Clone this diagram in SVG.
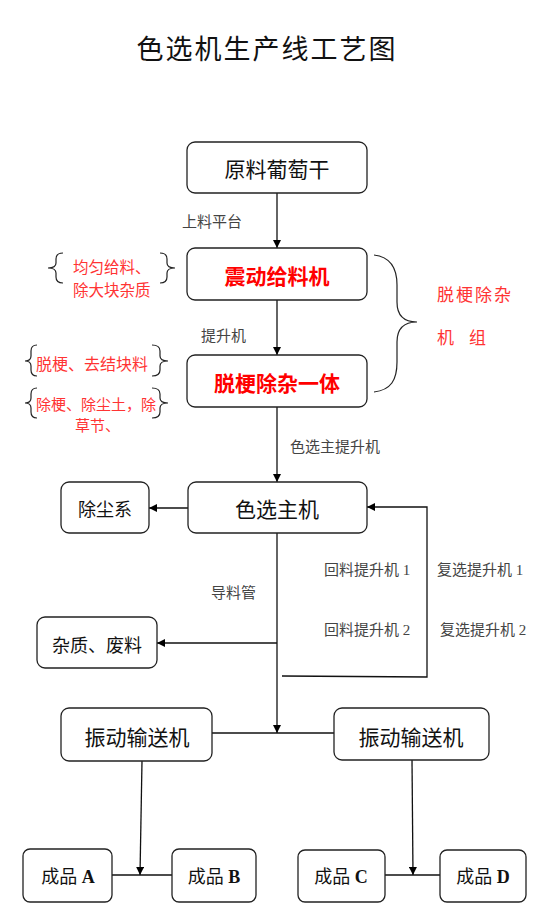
<svg xmlns="http://www.w3.org/2000/svg" width="546" height="915" viewBox="0 0 546 915">
<defs>
<marker id="ah" viewBox="0 0 10 10" refX="10" refY="5" markerWidth="8" markerHeight="8" markerUnits="userSpaceOnUse" orient="auto">
<path d="M0,0 L10,5 L0,10 z" fill="#000"/>
</marker>
<style>
.box{fill:#fff;stroke:#222;stroke-width:1.3}
.t{font-family:"Noto Sans CJK SC","Noto Sans",sans-serif;font-size:21px;fill:#111;text-anchor:middle;dominant-baseline:central}
.tr{font-family:"Noto Sans CJK SC","Noto Sans",sans-serif;font-size:21px;fill:#ff0000;font-weight:bold;text-anchor:middle;dominant-baseline:central}
.ts{font-family:"Noto Sans CJK SC","Noto Sans",sans-serif;font-size:18px;fill:#111;text-anchor:middle;dominant-baseline:central}
.tp{font-family:"Liberation Serif","Noto Sans CJK SC",serif;font-size:18px;fill:#111;text-anchor:middle;dominant-baseline:central}
.lbl{font-family:"Liberation Serif","Noto Sans CJK SC",serif;font-size:15px;fill:#444;dominant-baseline:central}
.ann{font-family:"Noto Sans CJK SC","Noto Sans",sans-serif;font-size:15.5px;fill:#ff3333;dominant-baseline:central}
.big{font-family:"Noto Sans CJK SC","Noto Sans",sans-serif;font-size:17px;fill:#ff3333;dominant-baseline:central;letter-spacing:2px}
.c{fill:none;stroke:#111;stroke-width:1.3}
.br{fill:none;stroke:#222;stroke-width:1.2}
</style>
</defs>
<rect width="546" height="915" fill="#fff"/>
<text x="267" y="47" font-family="'Noto Sans CJK SC',sans-serif" font-size="27" fill="#111" text-anchor="middle" dominant-baseline="central" letter-spacing="2">色选机生产线工艺图</text>

<g id="connectors">
<line class="c" x1="277" y1="193" x2="277" y2="248" marker-end="url(#ah)"/>
<line class="c" x1="277" y1="300" x2="277" y2="355" marker-end="url(#ah)"/>
<line class="c" x1="277" y1="407" x2="277" y2="482" marker-end="url(#ah)"/>
<line class="c" x1="188" y1="508" x2="149" y2="508" marker-end="url(#ah)"/>
<polyline class="c" points="282,676 427,677 427,507 367,507" marker-end="url(#ah)"/>
<line class="c" x1="277" y1="533" x2="277" y2="733" marker-end="url(#ah)"/>
<line class="c" x1="277" y1="643" x2="157" y2="643" marker-end="url(#ah)"/>
<line class="c" x1="212" y1="733" x2="334" y2="733"/>
<line class="c" x1="142" y1="761" x2="140" y2="875" marker-end="url(#ah)"/>
<line class="c" x1="112" y1="875" x2="172" y2="875"/>
<line class="c" x1="412" y1="760" x2="413" y2="875" marker-end="url(#ah)"/>
<line class="c" x1="385" y1="875" x2="440" y2="875"/>
</g>

<g id="labels">
<text class="lbl" x="182" y="222">上料平台</text>
<text class="lbl" x="201" y="336">提升机</text>
<text class="lbl" x="290" y="447">色选主提升机</text>
<text class="lbl" x="211" y="593">导料管</text>
<text class="lbl" x="324" y="570">回料提升机 1</text>
<text class="lbl" x="324" y="630">回料提升机 2</text>
<text class="lbl" x="437" y="570">复选提升机 1</text>
<text class="lbl" x="440" y="630">复选提升机 2</text>
</g>

<g id="annotations">
<path class="br" d="M63,253 Q56,253 56,259 L56,263 Q56,268 48,268 Q56,268 56,273 L56,277 Q56,283 63,283"/>
<path class="br" d="M160,253 Q167,253 167,259 L167,263 Q167,268 175,268 Q167,268 167,273 L167,277 Q167,283 160,283"/>
<text class="ann" x="73" y="266">均匀给料、</text>
<text class="ann" x="73" y="289">除大块杂质</text>

<path class="br" d="M37,345 Q31,345 31,351 L31,356 Q31,361 25,361 Q31,361 31,366 L31,370 Q31,376 37,376"/>
<path class="br" d="M152,345 Q160,345 160,351 L160,356 Q160,361 168,361 Q160,361 160,366 L160,370 Q160,376 152,376"/>
<text class="ann" x="36" y="363" style="font-size:16px">脱梗、去结块料</text>

<path class="br" d="M37,388 Q31,388 31,394 L31,398 Q31,403 25,403 Q31,403 31,408 L31,412 Q31,418 37,418"/>
<path class="br" d="M152,388 Q160,388 160,394 L160,398 Q160,403 168,403 Q160,403 160,408 L160,412 Q160,418 152,418"/>
<text class="ann" x="36" y="403" style="font-size:15px">除梗、除尘土，除</text>
<text class="ann" x="75" y="424" style="font-size:15px">草节、</text>

<path class="br" d="M374,255 C391,257 397,268 397,285 L397,302 C397,315 404,322 417,322 C404,322 397,329 397,342 L397,362 C397,380 391,390 374,392"/>
<text class="big" x="437" y="293">脱梗除杂</text>
<text class="big" x="437" y="336">机</text>
<text class="big" x="469" y="336">组</text>
</g>

<g id="n-raw">
<rect class="box" x="187" y="142" width="180" height="51" rx="8"/>
<text class="t" x="277" y="168">原料葡萄干</text>
</g>
<g id="n-feeder">
<rect class="box" x="187" y="248" width="180" height="52" rx="8"/>
<text class="tr" x="277" y="275">震动给料机</text>
</g>
<g id="n-destem">
<rect class="box" x="187" y="355" width="180" height="52" rx="8"/>
<text class="tr" x="277" y="382">脱梗除杂一体</text>
</g>
<g id="n-sorter">
<rect class="box" x="188" y="482" width="179" height="51" rx="8"/>
<text class="t" x="277" y="508">色选主机</text>
</g>
<g id="n-dust">
<rect class="box" x="61" y="482" width="88" height="51" rx="8"/>
<text class="ts" x="105" y="508">除尘系</text>
</g>
<g id="n-waste">
<rect class="box" x="37" y="617" width="120" height="51" rx="8"/>
<text class="ts" x="97" y="644">杂质、废料</text>
</g>
<g id="n-conv-left">
<rect class="box" x="61" y="708" width="151" height="53" rx="8"/>
<text class="t" x="137" y="736">振动输送机</text>
</g>
<g id="n-conv-right">
<rect class="box" x="334" y="708" width="155" height="52" rx="8"/>
<text class="t" x="411" y="736">振动输送机</text>
</g>
<g id="n-a">
<rect class="box" x="23" y="849" width="89" height="53" rx="7"/>
<text class="tp" x="68" y="877">成品 <tspan font-weight="bold">A</tspan></text>
</g>
<g id="n-b">
<rect class="box" x="172" y="849" width="84" height="53" rx="7"/>
<text class="tp" x="214" y="877">成品 <tspan font-weight="bold">B</tspan></text>
</g>
<g id="n-c">
<rect class="box" x="298" y="850" width="87" height="52" rx="7"/>
<text class="tp" x="341" y="877">成品 <tspan font-weight="bold">C</tspan></text>
</g>
<g id="n-d">
<rect class="box" x="440" y="850" width="86" height="52" rx="7"/>
<text class="tp" x="483" y="877">成品 <tspan font-weight="bold">D</tspan></text>
</g>
</svg>
